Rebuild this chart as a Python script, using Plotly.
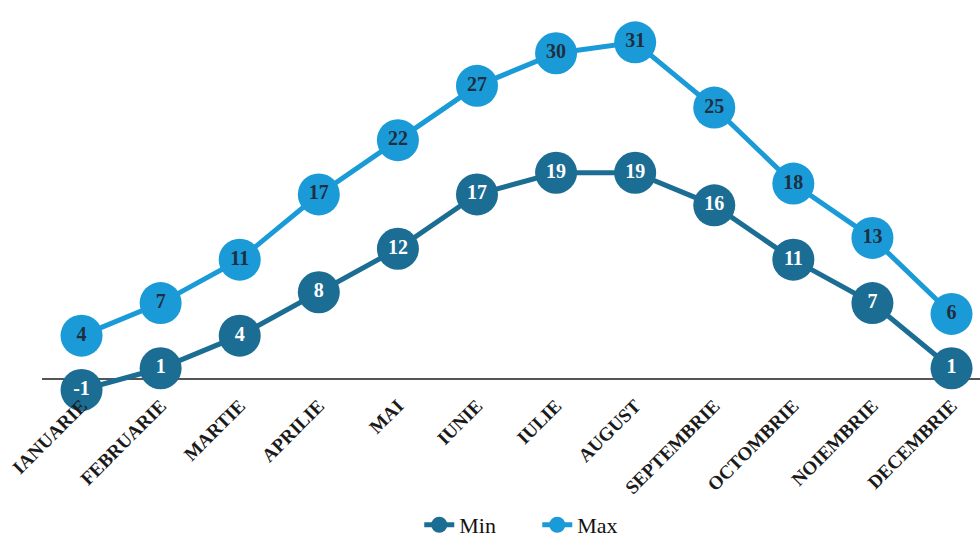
import plotly.graph_objects as go

months = ["IANUARIE", "FEBRUARIE", "MARTIE", "APRILIE", "MAI", "IUNIE", "IULIE",
          "AUGUST", "SEPTEMBRIE", "OCTOMBRIE", "NOIEMBRIE", "DECEMBRIE"]
min_vals = [-1, 1, 4, 8, 12, 17, 19, 19, 16, 11, 7, 1]
max_vals = [4, 7, 11, 17, 22, 27, 30, 31, 25, 18, 13, 6]

MIN_COLOR = "#1b6d93"
MAX_COLOR = "#1a9bd7"
SERIF = "Liberation Serif"

fig = go.Figure()
fig.add_trace(go.Scatter(
    x=months, y=min_vals, name="Min", mode="lines+markers+text",
    line=dict(color=MIN_COLOR, width=5),
    marker=dict(color=MIN_COLOR, size=42),
    text=[str(v) for v in min_vals], textposition="middle center",
    textfont=dict(family=SERIF, size=20, color="white", weight="bold"),
    cliponaxis=False,
))
fig.add_trace(go.Scatter(
    x=months, y=max_vals, name="Max", mode="lines+markers+text",
    line=dict(color=MAX_COLOR, width=5),
    marker=dict(color=MAX_COLOR, size=42),
    text=[str(v) for v in max_vals], textposition="middle center",
    textfont=dict(family=SERIF, size=20, color="#1f2f3f", weight="bold"),
    cliponaxis=False,
))

fig.update_layout(
    width=980, height=540,
    margin=dict(l=42, r=0, t=0, b=150, autoexpand=False),
    paper_bgcolor="white", plot_bgcolor="white",
    showlegend=True,
    legend=dict(orientation="h", x=0.528, xanchor="center", y=-0.346, yanchor="middle",
                font=dict(family=SERIF, size=22, color="#111111"),
                entrywidth=73, tracegroupgap=0),
    xaxis=dict(type="category", range=[-0.5, 11.36], showgrid=False, zeroline=False,
               showline=False, ticks="", tickangle=-45, automargin=False,
               tickfont=dict(family=SERIF, size=19, color="#1a1a1a", weight="bold")),
    yaxis=dict(range=[-1.0, 34.9], showgrid=False, zeroline=True, zerolinecolor="#555555",
               zerolinewidth=2, showticklabels=False, ticks="", showline=False,
               automargin=False),
)

fig.write_html("out.html")
